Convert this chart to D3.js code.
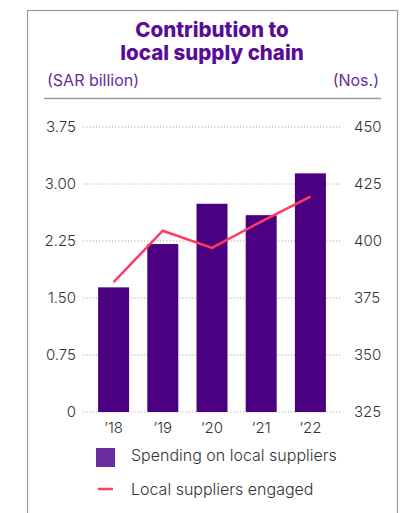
<!DOCTYPE html>
<html><head><meta charset="utf-8">
<script src="https://cdn.jsdelivr.net/npm/d3@7"></script>
<style>html,body{margin:0;padding:0;background:#fff;}svg{display:block;}</style>
</head><body>
<script>
const years = ["’18","’19","’20","’21","’22"];
const spending = [1.64, 2.21, 2.74, 2.59, 3.14];
const suppliers = [382, 404.5, 397, 408.5, 419.5];
const leftTicks = [0, 0.75, 1.5, 2.25, 3.0, 3.75];
const leftTickLabels = ["0","0.75","1.50","2.25","3.00","3.75"];
const rightTicks = [325, 350, 375, 400, 425, 450];

const W = 409, H = 513;
const svg = d3.select("body").append("svg").attr("width", W).attr("height", H);
const font = "Inter, 'Noto Sans', sans-serif";

// frame
svg.append("rect").attr("x", 27.5).attr("y", 10.5).attr("width", 370).attr("height", 520)
  .attr("fill", "none").attr("stroke", "#9a9a9a").attr("stroke-width", 1.2);

// title
const title = svg.append("text").attr("text-anchor", "middle").attr("font-family", font)
  .attr("font-weight", 800).attr("font-size", 20.5).attr("fill", "#5a0c96");
title.append("tspan").attr("x", 212).attr("y", 37).text("Contribution to");
title.append("tspan").attr("x", 212).attr("y", 60).text("local supply chain");

svg.append("text").attr("x", 47).attr("y", 86).attr("font-family", font).attr("font-size", 16)
  .attr("fill", "#6a2b9e").text("(SAR billion)");
svg.append("text").attr("x", 379).attr("y", 86).attr("text-anchor", "end").attr("font-family", font)
  .attr("font-size", 16).attr("fill", "#6a2b9e").text("(Nos.)");
svg.append("line").attr("x1", 44).attr("x2", 381).attr("y1", 98.5).attr("y2", 98.5)
  .attr("stroke", "#9a9a9a").attr("stroke-width", 1.5);

const y = d3.scaleLinear().domain([0, 3.75]).range([412, 127]);
const y2 = d3.scaleLinear().domain([325, 450]).range([412, 127]);
const x = d3.scaleBand().domain(years).range([83, 341]).paddingInner(0.37).paddingOuter(0.307);

// gridlines
svg.append("g").selectAll("line").data(leftTicks).join("line")
  .attr("x1", 83).attr("x2", 340).attr("y1", d => y(d)).attr("y2", d => y(d))
  .attr("stroke", "#a8a8a8").attr("stroke-width", 1).attr("stroke-dasharray", "1.2,2");

// left axis
const gl = svg.append("g").attr("transform", "translate(76,0)")
  .call(d3.axisLeft(y).tickValues(leftTicks).tickFormat((d, i) => leftTickLabels[i]).tickSize(0).tickPadding(0));
gl.select(".domain").remove();
gl.selectAll("text").attr("font-family", font).attr("font-size", 15).attr("fill", "#333").attr("font-weight", 300);

// right axis
const gr = svg.append("g").attr("transform", "translate(354,0)")
  .call(d3.axisRight(y2).tickValues(rightTicks).tickSize(0).tickPadding(0));
gr.select(".domain").remove();
gr.selectAll("text").attr("font-family", font).attr("font-size", 15).attr("fill", "#333").attr("font-weight", 300);

// bars
svg.append("g").selectAll("rect").data(spending).join("rect")
  .attr("x", (d, i) => x(years[i])).attr("width", x.bandwidth())
  .attr("y", d => y(d)).attr("height", d => y(0) - y(d)).attr("fill", "#4b0082");

// x labels
const gx = svg.append("g").attr("transform", "translate(0,419)")
  .call(d3.axisBottom(x).tickSize(0).tickPadding(0));
gx.select(".domain").remove();
gx.selectAll("text").attr("font-family", font).attr("font-size", 15).attr("fill", "#333").attr("font-weight", 300).attr("dy", "0.9em");

// line
const line = d3.line().x((d, i) => x(years[i]) + x.bandwidth() / 2).y(d => y2(d));
svg.append("path").datum(suppliers).attr("d", line).attr("fill", "none")
  .attr("stroke", "#ff3b63").attr("stroke-width", 2.5).attr("stroke-linejoin", "miter");

// legend
svg.append("rect").attr("x", 96).attr("y", 448).attr("width", 19).attr("height", 19).attr("fill", "#6a2d9f");
svg.append("text").attr("x", 131).attr("y", 461).attr("font-family", font).attr("font-size", 16)
  .attr("fill", "#333").attr("font-weight", 300).text("Spending on local suppliers");
svg.append("line").attr("x1", 98).attr("x2", 113).attr("y1", 489).attr("y2", 489)
  .attr("stroke", "#ff3b63").attr("stroke-width", 2.5);
svg.append("text").attr("x", 131).attr("y", 495).attr("font-family", font).attr("font-size", 16)
  .attr("fill", "#333").attr("font-weight", 300).text("Local suppliers engaged");
</script>
</body></html>
